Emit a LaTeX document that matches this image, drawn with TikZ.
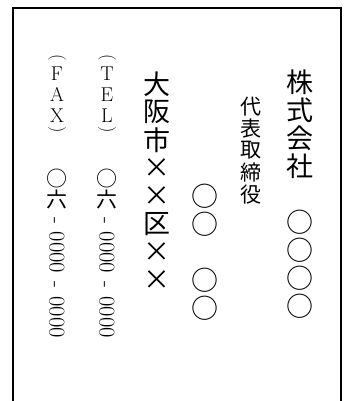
\documentclass[tikz,border=0pt]{standalone}
\usepackage{fontspec}
\newfontfamily\cjk{Noto Sans CJK JP}

\begin{document}
\begin{tikzpicture}[x=1pt,y=-1pt,
  cjkbig/.style={font=\cjk\fontsize{27}{27}\selectfont,inner sep=0pt},% company, name, address
  cjksmall/.style={font=\cjk\fontsize{21}{21}\selectfont,inner sep=0pt},% title, phone
  letter/.style={font=\fontsize{20}{20}\selectfont,inner sep=0pt},
  paren/.style={font=\fontsize{18}{18}\selectfont,inner sep=0pt,rotate=-90},
  digits/.style={font=\fontsize{22.5}{22.5}\selectfont,inner sep=0pt,rotate=-90,anchor=west}]
\useasboundingbox (0,0) rectangle (350,401);
\clip (0,0) rectangle (350,401);
\draw[line width=1.6pt] (13,8) rectangle (341,430);% card edge
%%%%%%%%%%%%%%%%%%%%%%%%%%%%%%
% company
\foreach \c [count=\i from 0] in {株,式,会,社}
  \node[cjkbig] (co\i) at (300,82+28*\i) {\c};
\foreach \c [count=\i from 0] in {○,○,○,○}
  \node[cjkbig] (cn\i) at (300,222+28*\i) {\c};
% title and name
\foreach \c [count=\i from 0] in {代,表,取,締,役}
  \node[cjksmall] (ti\i) at (251,107+21.8*\i) {\c};
\foreach \c [count=\i from 0] in {○,○}
  \node[cjkbig] (fa\i) at (205,196+28*\i) {\c};
\foreach \c [count=\i from 0] in {○,○}
  \node[cjkbig] (gi\i) at (205,280+28*\i) {\c};
% address
\foreach \c [count=\i from 0] in {大,阪,市,×,×,区,×,×}
  \node[cjkbig] (ad\i) at (157,84+28*\i) {\c};
%%%%%%%%%%%%%%%%%%%%%%%%%%%%%%
% TEL
\node[paren] (tl) at (107,57.5) {(};
\foreach \c [count=\i from 0] in {T,E,L}
  \node[letter] (te\i) at (107,73.5+21*\i) {\c};
\node[paren] (tr) at (107,130) {)};
\node[cjksmall] (tc) at (107,179) {○};
\node[cjksmall] (tk) at (107,199.5) {六};
\node[digits] (tn) at (107,217) {-\hspace{8pt}0000\hspace{8.5pt}-\hspace{8pt}0000};
% FAX
\node[paren] (fl) at (57,57.5) {(};
\foreach \c [count=\i from 0] in {F,A,X}
  \node[letter] (fx\i) at (57,73.5+21*\i) {\c};
\node[paren] (fr) at (57,130) {)};
\node[cjksmall] (fc) at (57,179) {○};
\node[cjksmall] (fk) at (57,199.5) {六};
\node[digits] (fn) at (57,217) {-\hspace{8pt}0000\hspace{8.5pt}-\hspace{8pt}0000};
\end{tikzpicture}
\end{document}
